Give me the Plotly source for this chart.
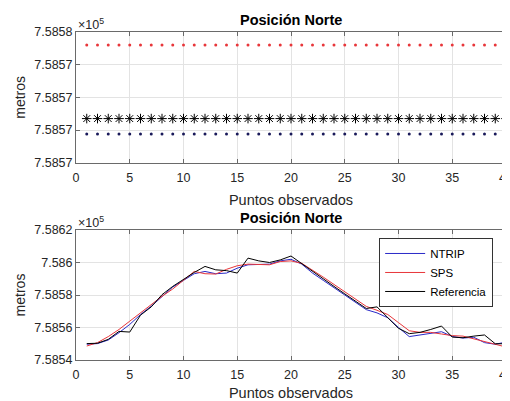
import plotly.graph_objects as go

# ---------------- data ----------------
puntos = list(range(1, 41))

# top panel (constant levels)
top_sps = [
    758575.2, 758575.2, 758575.2, 758575.2, 758575.2, 758575.2, 758575.2, 758575.2, 758575.2, 758575.2,
    758575.2, 758575.2, 758575.2, 758575.2, 758575.2, 758575.2, 758575.2, 758575.2, 758575.2, 758575.2,
    758575.2, 758575.2, 758575.2, 758575.2, 758575.2, 758575.2, 758575.2, 758575.2, 758575.2, 758575.2,
    758575.2, 758575.2, 758575.2, 758575.2, 758575.2, 758575.2, 758575.2, 758575.2, 758575.2, 758575.2]
top_ref = [
    758570.7, 758570.7, 758570.7, 758570.7, 758570.7, 758570.7, 758570.7, 758570.7, 758570.7, 758570.7,
    758570.7, 758570.7, 758570.7, 758570.7, 758570.7, 758570.7, 758570.7, 758570.7, 758570.7, 758570.7,
    758570.7, 758570.7, 758570.7, 758570.7, 758570.7, 758570.7, 758570.7, 758570.7, 758570.7, 758570.7,
    758570.7, 758570.7, 758570.7, 758570.7, 758570.7, 758570.7, 758570.7, 758570.7, 758570.7, 758570.7]
top_ntrip = [
    758569.76, 758569.76, 758569.76, 758569.76, 758569.76, 758569.76, 758569.76, 758569.76, 758569.76, 758569.76,
    758569.76, 758569.76, 758569.76, 758569.76, 758569.76, 758569.76, 758569.76, 758569.76, 758569.76, 758569.76,
    758569.76, 758569.76, 758569.76, 758569.76, 758569.76, 758569.76, 758569.76, 758569.76, 758569.76, 758569.76,
    758569.76, 758569.76, 758569.76, 758569.76, 758569.76, 758569.76, 758569.76, 758569.76, 758569.76, 758569.76]

# bottom panel series
ntrip = [
    758549.7, 758550.1, 758552.3, 758556.8, 758561.9, 758568.0, 758573.1, 758579.2, 758584.9, 758589.0,
    758593.1, 758594.5, 758593.1, 758593.5, 758596.5, 758598.6, 758599.0, 758599.0, 758601.0, 758602.0,
    758599.0, 758593.5, 758589.0, 758584.5, 758580.0, 758575.5, 758571.0, 758569.0, 758566.0, 758560.0,
    758554.4, 758555.4, 758556.5, 758557.4, 758554.5, 758553.5, 758554.0, 758550.7, 758549.7, 758551.0]
sps = [
    758548.6, 758550.7, 758554.4, 758558.8, 758563.9, 758569.0, 758574.1, 758579.2, 758583.7, 758589.0,
    758594.5, 758593.1, 758592.9, 758595.8, 758598.0, 758599.0, 758599.0, 758598.6, 758600.6, 758601.0,
    758599.5, 758595.5, 758591.0, 758586.5, 758582.0, 758577.5, 758573.0, 758570.6, 758568.0, 758563.0,
    758558.0, 758557.0, 758557.0, 758556.0, 758555.0, 758554.7, 758553.0, 758551.7, 758550.0, 758548.0]
referencia = [
    758550.1, 758550.3, 758552.7, 758557.6, 758557.2, 758567.6, 758572.7, 758580.2, 758585.3, 758589.8,
    758593.9, 758597.6, 758595.5, 758595.0, 758593.5, 758602.7, 758601.0, 758600.0, 758601.6, 758604.0,
    758599.2, 758594.5, 758590.0, 758585.3, 758580.7, 758576.1, 758571.7, 758572.7, 758566.0, 758559.5,
    758556.2, 758557.0, 758558.8, 758560.9, 758554.1, 758553.7, 758554.7, 758555.4, 758550.0, 758550.0]

x_ticks = [0, 5, 10, 15, 20, 25, 30, 35, 40]
top_yticks = [758568, 758570, 758572, 758574, 758576]
top_ylabels = ["7.5857", "7.5857", "7.5857", "7.5857", "7.5858"]
bot_yticks = [758540, 758560, 758580, 758600, 758620]
bot_ylabels = ["7.5854", "7.5856", "7.5858", "7.586", "7.5862"]

# ---------------- style ----------------
BLUE = "#2a2ac8"
RED = "#e8363a"
FONT = "Liberation Sans, Arial, sans-serif"
TXT = "#262626"
GRID = "#e3e3e3"
AX = "#6a6a6a"

fig = go.Figure()

fig.add_trace(go.Scatter(x=puntos, y=top_sps, mode="markers", marker=dict(color=RED, size=3),
                         showlegend=False, xaxis="x", yaxis="y", cliponaxis=False))
fig.add_trace(go.Scatter(x=puntos, y=top_ref, mode="markers",
                         marker=dict(symbol="asterisk-open", size=8, color="black",
                                     line=dict(color="black", width=1)),
                         showlegend=False, xaxis="x", yaxis="y", cliponaxis=False))
fig.add_trace(go.Scatter(x=puntos, y=top_ntrip, mode="markers", marker=dict(color="#1a1a5a", size=3),
                         showlegend=False, xaxis="x", yaxis="y", cliponaxis=False))

fig.add_trace(go.Scatter(x=puntos, y=ntrip, mode="lines", name="NTRIP",
                         line=dict(color=BLUE, width=1), xaxis="x2", yaxis="y2"))
fig.add_trace(go.Scatter(x=puntos, y=sps, mode="lines", name="SPS",
                         line=dict(color=RED, width=1), xaxis="x2", yaxis="y2"))
fig.add_trace(go.Scatter(x=puntos, y=referencia, mode="lines", name="Referencia",
                         line=dict(color="black", width=1), xaxis="x2", yaxis="y2"))

axis_common = dict(showgrid=True, gridcolor=GRID, gridwidth=1, zeroline=False,
                   showline=True, linecolor=AX, linewidth=1, mirror="allticks",
                   ticks="inside", ticklen=4, tickcolor=AX, automargin=False,
                   ticklabeloverflow="allow",
                   tickfont=dict(family=FONT, size=12.5, color=TXT))

xtitle = dict(text="Puntos observados", font=dict(family=FONT, size=14.5, color=TXT), standoff=11)
ytitle = dict(text="metros", font=dict(family=FONT, size=14, color=TXT), standoff=5)

top_dom = [0.6015, 1.0]
bot_dom = [0.0, 0.3963]

# page body adds an 8 px offset: figure is 502x393 so the plot lands where the reference has it
fig.update_layout(
    width=502, height=393,
    margin=dict(l=68, r=4, t=24, b=41, autoexpand=False),
    paper_bgcolor="white", plot_bgcolor="white",
    font=dict(family=FONT, color=TXT),
    xaxis=dict(axis_common, range=[0, 40], tickvals=x_ticks, domain=[0, 1], anchor="y",
               title=xtitle, ticklabelstandoff=3),
    yaxis=dict(axis_common, range=[758568, 758576], tickvals=top_yticks, ticktext=top_ylabels,
               domain=top_dom, anchor="x", title=ytitle),
    xaxis2=dict(axis_common, range=[0, 40], tickvals=x_ticks, domain=[0, 1], anchor="y2",
                title=xtitle, ticklabelstandoff=3),
    yaxis2=dict(axis_common, range=[758540, 758620], tickvals=bot_yticks, ticktext=bot_ylabels,
                domain=bot_dom, anchor="x2", title=ytitle),
    legend=dict(x=0.705, y=0.372, xanchor="left", yanchor="top",
                bgcolor="white", bordercolor="#333", borderwidth=1,
                font=dict(family=FONT, size=11.5, color="black"),
                itemwidth=40, tracegroupgap=0),
    showlegend=True,
)

ann = []
for dom in (top_dom, bot_dom):
    ann.append(dict(text="<b>Posición Norte</b>", x=0.5, y=dom[1], xref="paper", yref="paper",
                    xanchor="center", yanchor="bottom", yshift=2, showarrow=False,
                    font=dict(family=FONT, size=14.5, color="black")))
    ann.append(dict(text="×10<sup>5</sup>", x=0, y=dom[1], xref="paper", yref="paper",
                    xanchor="left", yanchor="bottom", yshift=-2, showarrow=False,
                    font=dict(family=FONT, size=12.5, color=TXT)))
fig.update_layout(annotations=ann)

fig.write_html("out.html")
